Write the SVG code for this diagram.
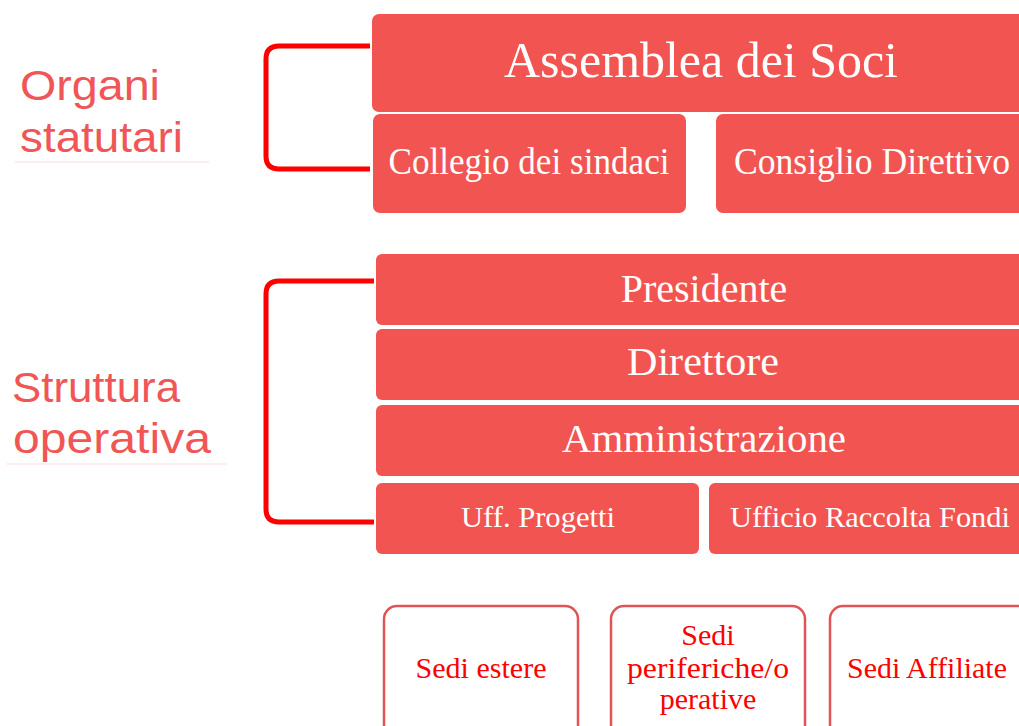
<svg xmlns="http://www.w3.org/2000/svg" width="1019" height="726" viewBox="0 0 1019 726">
<style>
.box{fill:#F15451;}
.obox{fill:#FFFFFF;stroke:#E05357;stroke-width:2.5;}
.wt{fill:#FFFFFF;font-family:"Liberation Serif",serif;text-anchor:middle;}
.rt{fill:#FF0000;font-family:"Liberation Serif",serif;text-anchor:middle;font-size:30px;}
.lbl{fill:#F05656;font-family:"Liberation Sans",Arial,sans-serif;font-size:43px;}
.br{fill:none;stroke:#FF0000;stroke-width:5;}
.ul{stroke:#FADADD;stroke-width:1.2;}
</style>
<rect width="1019" height="726" fill="#FFFFFF"/>
<g id="labels">
<text class="lbl" x="20" y="100" textLength="140" lengthAdjust="spacingAndGlyphs">Organi</text>
<text class="lbl" x="20" y="152" textLength="163" lengthAdjust="spacingAndGlyphs">statutari</text>
<line class="ul" x1="15" y1="162" x2="209" y2="162"/>
<text class="lbl" x="12" y="402" textLength="168" lengthAdjust="spacingAndGlyphs">Struttura</text>
<text class="lbl" x="13" y="453" textLength="198" lengthAdjust="spacingAndGlyphs">operativa</text>
<line class="ul" x1="7" y1="464" x2="227" y2="464"/>
</g>
<g id="connectors">
<path class="br" d="M370 46 H279 Q266 46 266 59 V156 Q266 169 279 169 H370"/>
<path class="br" d="M374 281 H279 Q266 281 266 294 V509 Q266 522 279 522 H374"/>
</g>
<g id="assemblea">
<rect class="box" x="372" y="14" width="660" height="98" rx="7"/>
<text class="wt" x="701" y="77" font-size="51" textLength="394" lengthAdjust="spacingAndGlyphs">Assemblea dei Soci</text>
</g>
<g id="collegio">
<rect class="box" x="373" y="114" width="313" height="99" rx="7"/>
<text class="wt" x="529" y="174" font-size="37" textLength="281" lengthAdjust="spacingAndGlyphs">Collegio dei sindaci</text>
</g>
<g id="consiglio">
<rect class="box" x="716" y="114" width="316" height="99" rx="7"/>
<text class="wt" x="872" y="174" font-size="37" textLength="276" lengthAdjust="spacingAndGlyphs">Consiglio Direttivo</text>
</g>
<g id="presidente">
<rect class="box" x="376" y="254" width="656" height="71" rx="6"/>
<text class="wt" x="704" y="302" font-size="40">Presidente</text>
</g>
<g id="direttore">
<rect class="box" x="376" y="329" width="656" height="71" rx="6"/>
<text class="wt" x="703" y="375" font-size="40" textLength="152" lengthAdjust="spacingAndGlyphs">Direttore</text>
</g>
<g id="amministrazione">
<rect class="box" x="376" y="405" width="656" height="71" rx="6"/>
<text class="wt" x="704" y="452" font-size="40" textLength="284" lengthAdjust="spacingAndGlyphs">Amministrazione</text>
</g>
<g id="uff-progetti">
<rect class="box" x="376" y="483" width="323" height="71" rx="6"/>
<text class="wt" x="538" y="527" font-size="30" textLength="154" lengthAdjust="spacingAndGlyphs">Uff. Progetti</text>
</g>
<g id="ufficio-raccolta">
<rect class="box" x="709" y="483" width="323" height="71" rx="6"/>
<text class="wt" x="870" y="527" font-size="30" textLength="280" lengthAdjust="spacingAndGlyphs">Ufficio Raccolta Fondi</text>
</g>
<g id="sedi-estere">
<rect class="obox" x="384" y="606" width="194" height="140" rx="13"/>
<text class="rt" x="481" y="678" textLength="131" lengthAdjust="spacingAndGlyphs">Sedi estere</text>
</g>
<g id="sedi-periferiche">
<rect class="obox" x="611" y="606" width="194" height="140" rx="13"/>
<text class="rt" x="708" y="645">Sedi</text>
<text class="rt" x="708" y="678" textLength="162" lengthAdjust="spacingAndGlyphs">periferiche/o</text>
<text class="rt" x="708" y="709">perative</text>
</g>
<g id="sedi-affiliate">
<rect class="obox" x="830" y="606" width="220" height="140" rx="13"/>
<text class="rt" x="927" y="678" textLength="160" lengthAdjust="spacingAndGlyphs">Sedi Affiliate</text>
</g>
</svg>
